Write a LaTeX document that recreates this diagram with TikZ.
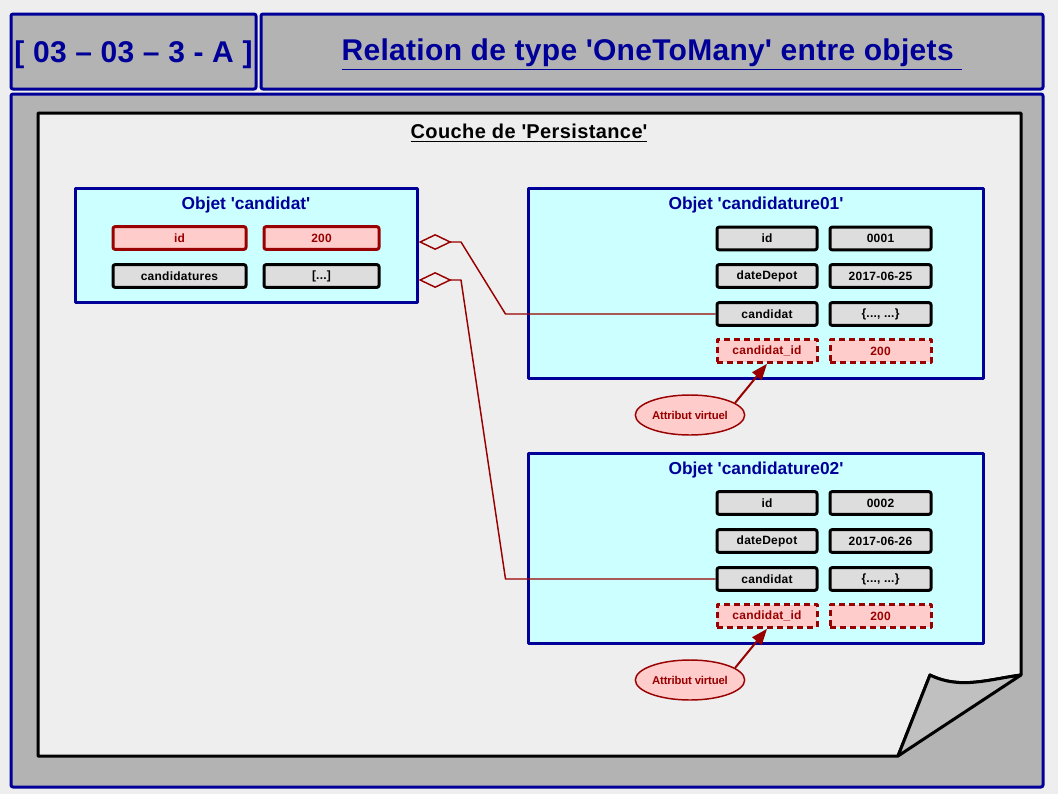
\documentclass[tikz,border=0pt]{standalone}
\usepackage{fontspec}
\setmainfont{Liberation Sans}
\usetikzlibrary{shapes.geometric,arrows.meta}
\definecolor{navy}{RGB}{0,0,153}
\definecolor{bgpale}{RGB}{238,238,238}
\definecolor{framegray}{RGB}{179,179,179}
\definecolor{foldgray}{RGB}{192,192,192}
\definecolor{cyanpale}{RGB}{204,255,255}
\definecolor{pinkpale}{RGB}{255,204,204}
\definecolor{cellgray}{RGB}{221,221,221}
\definecolor{darkred}{RGB}{153,0,0}
\newcommand\sq{\textquotesingle}
\begin{document}
\begin{tikzpicture}[x=0.75pt,y=-0.75pt,join=round, % 1 unit = 1 px
        hdbox/.style={draw=navy,fill=framegray,line width=2.25pt,rounded corners=1.5pt,inner sep=0pt,text height=20.5pt,
                text=navy,font=\bfseries\fontsize{22.5}{26}\selectfont\addfontfeature{LetterSpace=1}},
        obj/.style={draw=navy,fill=cyanpale,line width=2.25pt,inner sep=0pt},
        objtitle/.style={text=navy,font=\bfseries\fontsize{13}{15}\selectfont},
        cell/.style={draw=black,fill=cellgray,line width=2.25pt,rounded corners=1.5pt,inner sep=0pt,
                minimum height=17pt,font=\bfseries\fontsize{9}{10}\selectfont\addfontfeature{LetterSpace=2}},
        keycell/.style={cell,draw=darkred,fill=pinkpale,text=darkred},
        virtcell/.style={keycell,dash pattern=on 4.5pt off 3pt,rounded corners=0pt},
        note/.style={ellipse,draw=darkred,fill=pinkpale,line width=1.1pt,inner sep=0pt,
                minimum width=82pt,minimum height=30pt,text=darkred,
                font=\bfseries\fontsize{8.5}{9}\selectfont\addfontfeature{LetterSpace=-1.5}},
        link/.style={draw=darkred,line width=1.1pt,{Diamond[open,length=25pt,width=12pt]}-},
        pointer/.style={draw=darkred,line width=1.5pt,-{Triangle[length=12pt,width=9pt]}}]
        \useasboundingbox[fill=bgpale] (0,0) rectangle (1058,794);
        % header
        \node[hdbox,minimum width=183.75pt,minimum height=56.25pt] (ref) at (133.5,51.5) {[ 03 – 03 – 3 - A ]};
        \node[hdbox,minimum width=586.5pt,minimum height=56.25pt] (title) at (652,51.5) {\underline{Relation de type \sq OneToMany\sq{} entre objets\ }};
        \node[hdbox,minimum width=774pt,minimum height=519.75pt] (frame) at (527,440.5) {};
        % page with folded corner
        \filldraw[fill=bgpale,line width=2.25pt] (38,113) -- (1021,113) -- (1021,675)
                .. controls (990,679) and (960,690) .. (930,675) -- (898,756) -- (38,756) -- cycle;
        \filldraw[fill=foldgray,line width=2.25pt] (930,675) .. controls (960,690) and (990,679) .. (1021,675) -- (898,756) -- cycle;
        \node[font=\bfseries\fontsize{15}{18}\selectfont\addfontfeature{LetterSpace=2}] (layer) at (529,133) {\underline{Couche de \sq Persistance\sq}};
        % objet candidat
        \node[obj,minimum width=256.5pt,minimum height=85.5pt] (cand) at (246,245) {};
        \node[objtitle] (candT) at (246,205) {Objet \sq candidat\sq};
        \node[keycell,minimum width=99.75pt] (candK1) at (179.5,238) {id};
        \node[keycell,minimum width=86.25pt] (candV1) at (321.5,238) {200};
        \node[cell,minimum width=99.75pt] (candK2) at (179.5,276) {candidatures};
        \node[cell,minimum width=86.25pt] (candV2) at (321.5,276) {[...]};
        % objet candidature01
        \node[obj,minimum width=341.25pt,minimum height=142.5pt] (app1) at (755.5,283) {};
        \node[objtitle] (app1T) at (756,205) {Objet \sq candidature01\sq};
        \node[cell,minimum width=75pt] (app1K1) at (767,238.5) {id};
        \node[cell,minimum width=75.75pt] (app1V1) at (880.5,238.5) {0001};
        \node[cell,minimum width=75pt] (app1K2) at (767,276) {dateDepot};
        \node[cell,minimum width=75.75pt] (app1V2) at (880.5,276) {2017-06-25};
        \node[cell,minimum width=75pt] (app1K3) at (767,314) {candidat};
        \node[cell,minimum width=75.75pt] (app1V3) at (880.5,314) {\{..., ...\}};
        \node[virtcell,minimum width=75pt] (app1K4) at (767,351) {candidat\_id};
        \node[virtcell,minimum width=75.75pt] (app1V4) at (880.5,351) {200};
        \node[note] (virt1) at (690,415) {Attribut virtuel};
        % objet candidature02
        \node[obj,minimum width=341.25pt,minimum height=142.5pt] (app2) at (755.5,548) {};
        \node[objtitle] (app2T) at (756,470) {Objet \sq candidature02\sq};
        \node[cell,minimum width=75pt] (app2K1) at (767,503) {id};
        \node[cell,minimum width=75.75pt] (app2V1) at (880.5,503) {0002};
        \node[cell,minimum width=75pt] (app2K2) at (767,541) {dateDepot};
        \node[cell,minimum width=75.75pt] (app2V2) at (880.5,541) {2017-06-26};
        \node[cell,minimum width=75pt] (app2K3) at (767,579) {candidat};
        \node[cell,minimum width=75.75pt] (app2V3) at (880.5,579) {\{..., ...\}};
        \node[virtcell,minimum width=75pt] (app2K4) at (767,616) {candidat\_id};
        \node[virtcell,minimum width=75.75pt] (app2V4) at (880.5,616) {200};
        \node[note] (virt2) at (690,680) {Attribut virtuel};
        % relations
        \coordinate (bend1) at (461,242);
        \coordinate (bend2) at (461,280);
        \draw[link] (cand.east |- bend1) -- (bend1) -- ([xshift=-157.5pt]app1K3.west) -- (app1K3.west);
        \draw[link] (cand.east |- bend2) -- (bend2) -- ([xshift=-157.5pt]app2K3.west) -- (app2K3.west);
        \draw[pointer] (virt1.15) -- (app1K4.south);
        \draw[pointer] (virt2.15) -- (app2K4.south);
\end{tikzpicture}
\end{document}
